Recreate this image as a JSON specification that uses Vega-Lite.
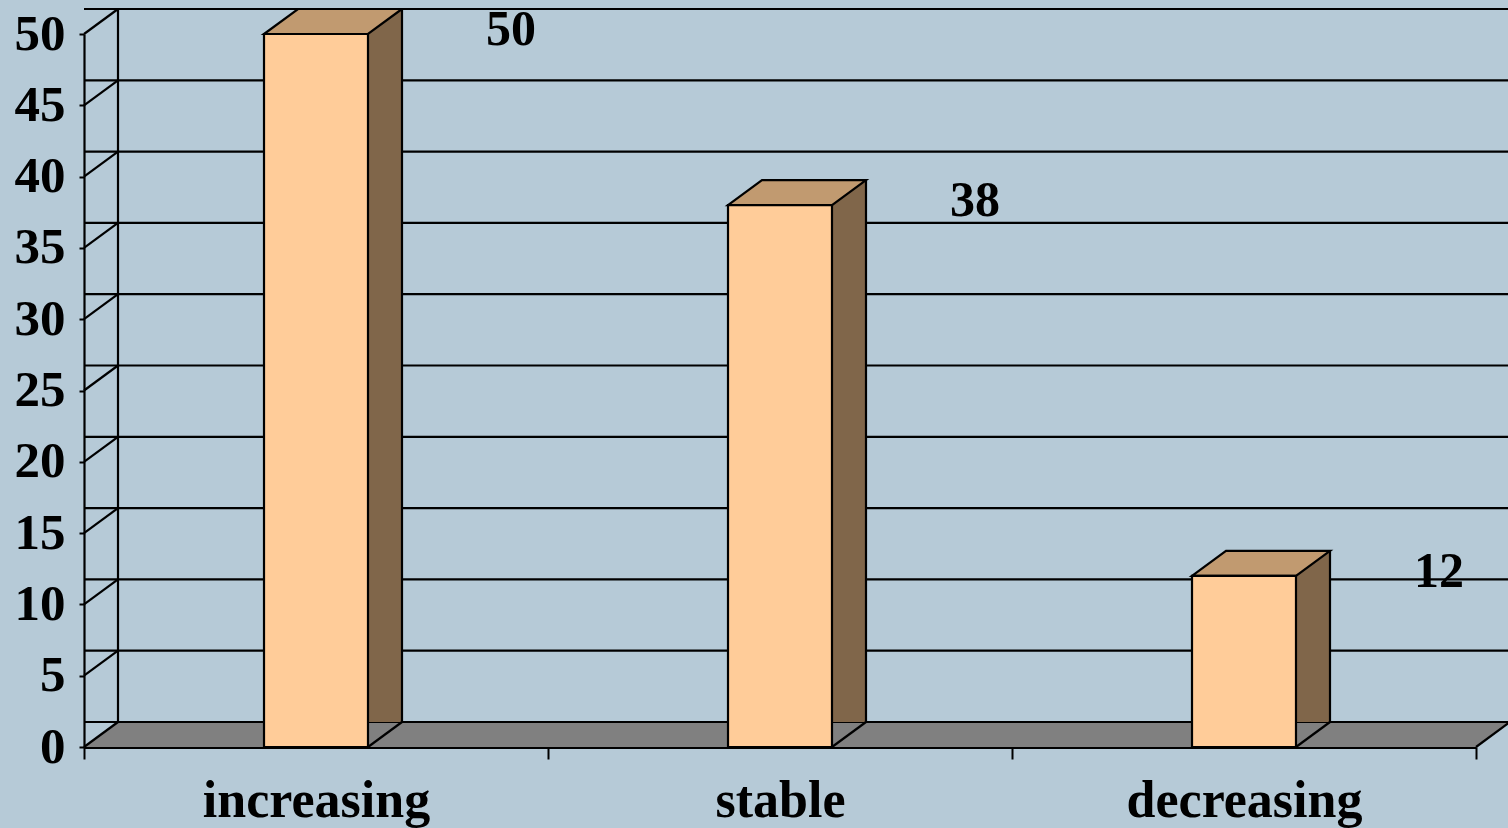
{
  "$schema": "https://vega.github.io/schema/vega-lite/v6.json",
  "width": 1392,
  "height": 713,
  "autosize": {"type": "none"},
  "padding": {"left": 84, "top": 34, "right": 32, "bottom": 81},
  "background": "#B6CAD7",
  "config": {"view": {"stroke": null}, "font": "Liberation Serif"},
  "datasets": {
    "bars": [
      {"category": "increasing", "value": 50},
      {"category": "stable", "value": 38},
      {"category": "decreasing", "value": 12}
    ],
    "ticks": [
      {"v": 0}, {"v": 5}, {"v": 10}, {"v": 15}, {"v": 20}, {"v": 25},
      {"v": 30}, {"v": 35}, {"v": 40}, {"v": 45}, {"v": 50}
    ],
    "one": [{}]
  },
  "layer": [
    {
      "data": {"name": "one"},
      "mark": {"type": "point", "shape": "M0,0L1392,0L1426,-25L34,-25Z", "size": 4, "filled": true, "fill": "#808080", "strokeWidth": 0, "opacity": 1},
      "encoding": {
        "x": {"datum": "increasing", "type": "nominal", "bandPosition": 0},
        "y": {"datum": 0, "type": "quantitative"}
      }
    },
    {
      "data": {"name": "ticks"},
      "mark": {"type": "rule", "xOffset": 34, "x2Offset": 34, "yOffset": -25, "stroke": "black", "strokeWidth": 2.2},
      "encoding": {
        "y": {"field": "v", "type": "quantitative"}
      }
    },
    {
      "data": {"name": "ticks"},
      "mark": {"type": "point", "shape": "M0,0L34,-25", "size": 4, "filled": false, "stroke": "black", "strokeWidth": 2.2, "opacity": 1},
      "encoding": {
        "x": {"datum": "increasing", "type": "nominal", "bandPosition": 0},
        "y": {"field": "v", "type": "quantitative"}
      }
    },
    {
      "data": {"name": "one"},
      "mark": {"type": "rule", "xOffset": 34, "yOffset": -25, "y2Offset": -25, "stroke": "black", "strokeWidth": 2.2},
      "encoding": {
        "x": {"datum": "increasing", "type": "nominal", "bandPosition": 0},
        "y": {"datum": 0, "type": "quantitative"},
        "y2": {"datum": 50}
      }
    },
    {
      "data": {"name": "one"},
      "mark": {"type": "point", "shape": "M0,0L34,-25", "size": 4, "filled": false, "stroke": "black", "strokeWidth": 2.2, "opacity": 1},
      "encoding": {
        "x": {"datum": "decreasing", "type": "nominal", "bandPosition": 1},
        "y": {"datum": 0, "type": "quantitative"}
      }
    },
    {
      "data": {"name": "bars"},
      "mark": {"type": "bar", "width": 34, "xOffset": 69, "yOffset": -25, "fill": "#80664A", "strokeWidth": 0},
      "encoding": {
        "x": {"field": "category", "type": "nominal"},
        "y": {"field": "value", "type": "quantitative"}
      }
    },
    {
      "data": {"name": "bars"},
      "mark": {"type": "point", "shape": "M52,0L86,0L86,-25Z", "size": 4, "filled": true, "fill": "#808080", "strokeWidth": 0, "opacity": 1},
      "encoding": {
        "x": {"field": "category", "type": "nominal"},
        "y": {"datum": 0, "type": "quantitative"}
      }
    },
    {
      "data": {"name": "bars"},
      "mark": {"type": "point", "shape": "M52,0L86,-25", "size": 4, "filled": false, "stroke": "black", "strokeWidth": 2.2, "opacity": 1},
      "encoding": {
        "x": {"field": "category", "type": "nominal"},
        "y": {"datum": 0, "type": "quantitative"}
      }
    },
    {
      "data": {"name": "bars"},
      "mark": {"type": "rule", "xOffset": 86, "yOffset": -25, "y2Offset": -25, "stroke": "black", "strokeWidth": 2.2},
      "encoding": {
        "x": {"field": "category", "type": "nominal"},
        "y": {"field": "value", "type": "quantitative"},
        "y2": {"datum": 0}
      }
    },
    {
      "data": {"name": "bars"},
      "mark": {"type": "point", "shape": "M-52,0L52,0L86,-25L-18,-25Z", "size": 4, "filled": true, "fill": "#C19A70", "stroke": "black", "strokeWidth": 2.2, "opacity": 1},
      "encoding": {
        "x": {"field": "category", "type": "nominal"},
        "y": {"field": "value", "type": "quantitative"}
      }
    },
    {
      "data": {"name": "bars"},
      "mark": {"type": "bar", "width": {"band": 0.2241}, "fill": "#FFCC99", "stroke": "black", "strokeWidth": 2.2},
      "encoding": {
        "x": {
          "field": "category",
          "type": "nominal",
          "sort": ["increasing", "stable", "decreasing"],
          "scale": {"domain": ["increasing", "stable", "decreasing"], "paddingInner": 0, "paddingOuter": 0},
          "axis": {
            "title": null,
            "orient": "bottom",
            "grid": false,
            "domainColor": "black",
            "domainWidth": 3,
            "tickBand": "extent",
            "tickSize": 12,
            "tickColor": "black",
            "tickWidth": 2,
            "labelFont": "Liberation Serif",
            "labelFontWeight": "bold",
            "labelFontSize": 52,
            "labelColor": "black",
            "labelAlign": "center",
            "labelBaseline": "alphabetic",
            "labelPadding": 57,
            "labelAngle": 0,
            "labelLimit": 0
          }
        },
        "y": {
          "field": "value",
          "type": "quantitative",
          "scale": {"domain": [0, 50], "nice": false, "zero": true},
          "axis": {
            "title": null,
            "grid": false,
            "values": [0, 5, 10, 15, 20, 25, 30, 35, 40, 45, 50],
            "domainColor": "black",
            "domainWidth": 2.2,
            "tickSize": 5,
            "tickColor": "black",
            "tickWidth": 2,
            "labelFont": "Liberation Serif",
            "labelFontWeight": "bold",
            "labelFontSize": 51,
            "labelColor": "black",
            "labelPadding": 14
          }
        }
      }
    },
    {
      "data": {"name": "bars"},
      "mark": {"type": "text", "dx": 195, "dy": 11, "baseline": "alphabetic", "align": "center", "font": "Liberation Serif", "fontWeight": "bold", "fontSize": 50, "color": "black"},
      "encoding": {
        "x": {"field": "category", "type": "nominal"},
        "y": {"field": "value", "type": "quantitative"},
        "text": {"field": "value", "type": "quantitative"}
      }
    }
  ]
}
